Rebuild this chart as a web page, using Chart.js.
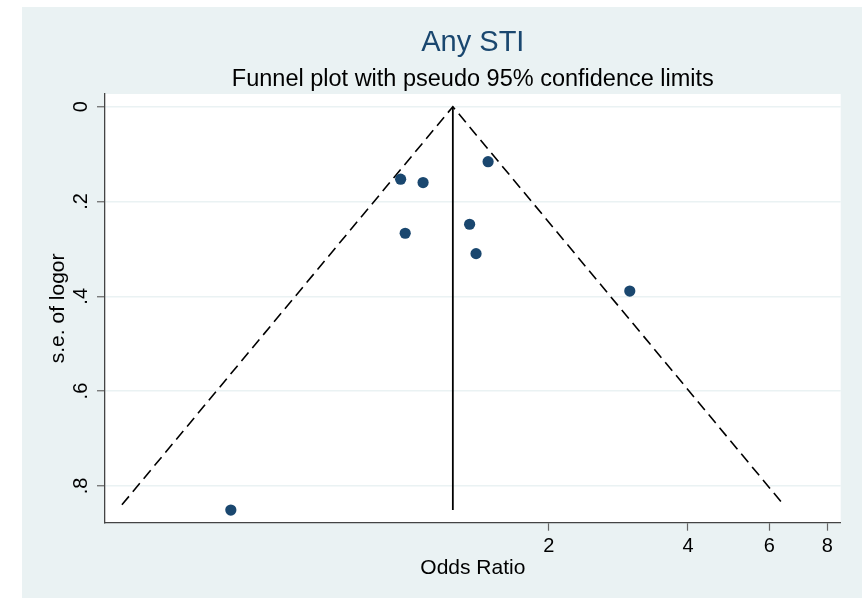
<!DOCTYPE html>
<html>
<head>
<meta charset="utf-8">
<title>Any STI</title>
<script src="https://cdn.jsdelivr.net/npm/chart.js@4"></script>
<style>
  html, body { margin: 0; padding: 0; background: #fff; }
  canvas { display: block; }
</style>
</head>
<body>
<canvas id="funnelChart" width="866" height="598"></canvas>
<script>
'use strict';

// Studies: odds ratio and s.e. of log OR
const studyOR = [0.411, 0.957, 1.070, 1.479, 0.979, 1.349, 1.393, 2.994];
const studySE = [0.851, 0.153, 0.160, 0.116, 0.267, 0.248, 0.310, 0.389];

// Pooled estimate and pseudo 95% limits
const pooledOR = 1.241;
const pooledSEMax = 0.851;
const funnelOR = [0.239, 1.241, 6.44];
const funnelSE = [0.840, 0, 0.840];

// Axis ticks
const xTickValues = [2, 4, 6, 8];
const xTickLabels = ['2', '4', '6', '8'];
const yTickValues = [0, 0.2, 0.4, 0.6, 0.8];
const yTickLabels = ['0', '.2', '.4', '.6', '.8'];

document.addEventListener('DOMContentLoaded', () => {
  Chart.defaults.font.family = "'Liberation Sans', Arial, sans-serif";
  Chart.defaults.color = '#000';

  const stataBlue = '#1a476f';
  const outerColor = '#eaf2f3';

  // Stata-like background: light outer region, white plot region
  const backgroundPlugin = {
    id: 'stataBackground',
    beforeDraw(chart) {
      const { ctx, chartArea } = chart;
      ctx.save();
      ctx.fillStyle = '#ffffff';
      ctx.fillRect(0, 0, chart.width, chart.height);
      ctx.fillStyle = outerColor;
      ctx.fillRect(22, 7, 840, 591);
      ctx.fillStyle = '#ffffff';
      ctx.fillRect(
        chartArea.left,
        chartArea.top,
        chartArea.right - chartArea.left,
        chartArea.bottom - chartArea.top
      );
      ctx.restore();
    },
  };

  const ctx = document.getElementById('funnelChart').getContext('2d');
  new Chart(ctx, {
    type: 'scatter',
    data: {
      datasets: [
        {
          label: 'Studies',
          data: studyOR.map((or, i) => ({ x: or, y: studySE[i] })),
          backgroundColor: stataBlue,
          borderColor: stataBlue,
          borderWidth: 0,
          pointRadius: 5.6,
        },
        {
          label: 'Pseudo 95% limits',
          data: funnelOR.map((or, i) => ({ x: or, y: funnelSE[i] })),
          showLine: true,
          borderColor: '#000',
          borderWidth: 1.6,
          borderDash: [11, 6],
          pointRadius: 0,
          fill: false,
        },
        {
          label: 'Pooled',
          data: [
            { x: pooledOR, y: 0 },
            { x: pooledOR, y: pooledSEMax },
          ],
          showLine: true,
          borderColor: '#000',
          borderWidth: 1.8,
          pointRadius: 0,
          fill: false,
        },
      ],
    },
    options: {
      responsive: false,
      animation: false,
      layout: {
        padding: { left: 22, right: 25.3, top: 7, bottom: 0 },
      },
      plugins: {
        legend: { display: false },
        tooltip: { enabled: false },
        title: {
          display: true,
          text: 'Any STI',
          color: stataBlue,
          fullSize: false,
          font: { size: 29, weight: 'normal' },
          padding: { top: 18.6, bottom: 5.4 },
        },
        subtitle: {
          display: true,
          text: 'Funnel plot with pseudo 95% confidence limits',
          color: '#000',
          fullSize: false,
          font: { size: 23.5, weight: 'normal' },
          padding: { top: 0, bottom: 0 },
        },
      },
      scales: {
        x: {
          type: 'logarithmic',
          min: 0.2197,
          max: 8.555,
          afterBuildTicks: scale => {
            scale.ticks = xTickValues.map(v => ({ value: v }));
          },
          afterFit: scale => {
            scale.height = 75.3;
          },
          ticks: {
            callback: (value, index) => xTickLabels[index],
            font: { size: 20 },
            padding: 4,
            maxRotation: 0,
            autoSkip: false,
          },
          grid: {
            drawOnChartArea: false,
            tickLength: 8,
            tickColor: '#666',
            tickWidth: 1.2,
          },
          border: { color: '#444', width: 1.3 },
          title: {
            display: true,
            text: 'Odds Ratio',
            font: { size: 21 },
            padding: { top: 0, bottom: 17 },
          },
        },
        y: {
          type: 'linear',
          reverse: true,
          min: -0.0268,
          max: 0.8777,
          afterBuildTicks: scale => {
            scale.ticks = yTickValues.map(v => ({ value: v }));
          },
          afterFit: scale => {
            scale.width = 83;
          },
          ticks: {
            callback: (value, index) => yTickLabels[index],
            font: { size: 20 },
            minRotation: 90,
            maxRotation: 90,
            crossAlign: 'center',
            padding: 7,
            autoSkip: false,
          },
          grid: {
            color: outerColor,
            lineWidth: 1.5,
            tickLength: 8,
            tickColor: '#666',
            tickWidth: 1.2,
          },
          border: { color: '#444', width: 1.3 },
          title: {
            display: true,
            text: 's.e. of logor',
            font: { size: 21 },
            padding: { top: 24, bottom: 0 },
          },
        },
      },
    },
    plugins: [backgroundPlugin],
  });
});
</script>
</body>
</html>
